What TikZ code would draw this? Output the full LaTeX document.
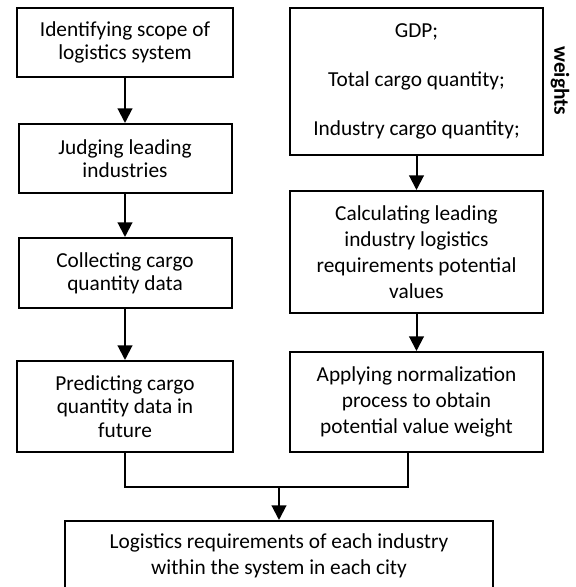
\documentclass[tikz,border=0pt]{standalone}
\usepackage{fontspec}
\setmainfont{Carlito}
\usetikzlibrary{arrows.meta}
\newcommand{\pxu}{0.75pt}
\tikzset{
  box/.style={draw, line width=1.5pt, align=center, inner sep=2pt,
    font=\fontsize{16}{17.5}\selectfont},
  loose/.style={font=\fontsize{16}{19.5}\selectfont},
  arr/.style={line width=1.5pt, -{Triangle[width=11pt,length=11pt]}},
  link/.style={line width=1.5pt}
}
\begin{document}
\begin{tikzpicture}[x=\pxu,y=-\pxu]
            \useasboundingbox (0,0) rectangle (576,587);
            \clip (0,0) rectangle (576,587);
            % left column
            \node[box, minimum width=216*\pxu, minimum height=69*\pxu] (scope) at (125,42.5) {Identifying scope of\\logistics system};
            \node[box, minimum width=213*\pxu, minimum height=69*\pxu] (judge) at (125,158.5) {Judging leading\\industries};
            \node[box, minimum width=213*\pxu, minimum height=70*\pxu] (collect) at (125,273) {Collecting cargo\\quantity data};
            \node[box, minimum width=216*\pxu, minimum height=91*\pxu] (predict) at (125,406.5) {Predicting cargo\\quantity data in\\future};
            % right column
            \node[box, minimum width=253*\pxu, minimum height=147*\pxu] (factors) at (416.5,81.5) {GDP;\\[19pt]Total cargo quantity;\\[19pt]Industry cargo quantity;};
            \node[rotate=-90, font=\fontsize{16}{17.5}\selectfont\bfseries] (weights) at (560,81) {weights};
            \node[box, loose, minimum width=253*\pxu, minimum height=122*\pxu] (calc) at (416.5,252) {Calculating leading\\industry logistics\\requirements potential\\values};
            \node[box, loose, minimum width=253*\pxu, minimum height=100*\pxu] (norm) at (416.5,402) {Applying normalization\\process to obtain\\potential value weight};
            % result
            \node[box, loose, minimum width=428*\pxu, minimum height=70*\pxu] (result) at (279,556) {Logistics requirements of each industry\\within the system in each city};
            \coordinate (join) at (279,487);
            \draw[arr] (scope) -- (judge);
            \draw[arr] (judge) -- (collect);
            \draw[arr] (collect) -- (predict);
            \draw[arr] (factors) -- (calc);
            \draw[arr] (calc) -- (norm);
            \draw[link] (predict.south) |- (join);
            \draw[link] ([xshift=-6.75pt]norm.south) |- (join);
            \draw[arr] (join) -- (result);
        \end{tikzpicture}
\end{document}
